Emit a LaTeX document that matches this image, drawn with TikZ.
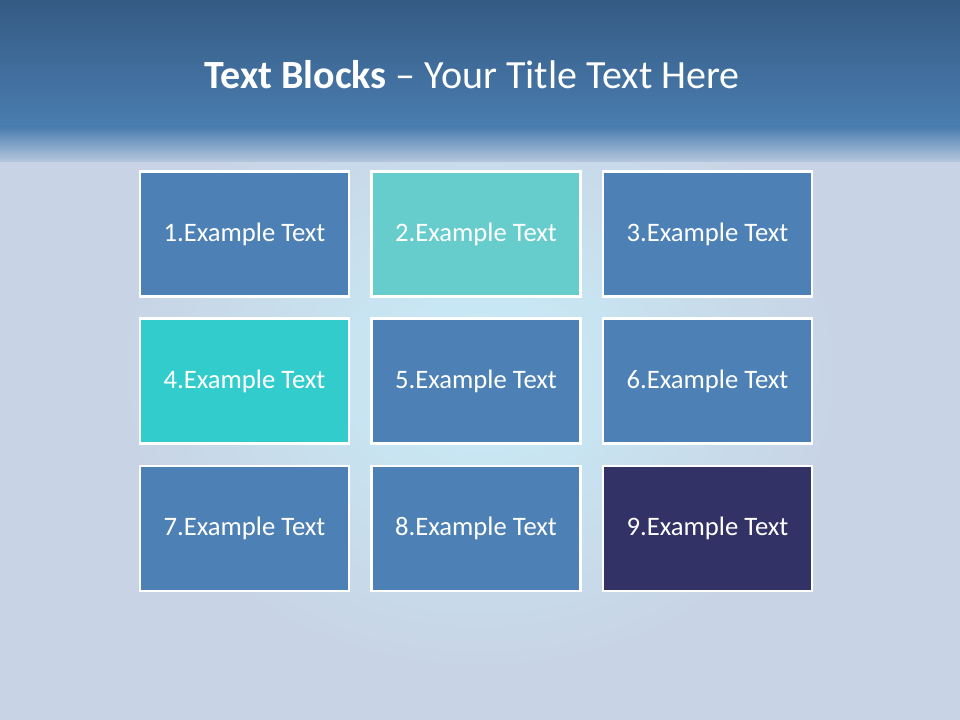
\documentclass[tikz,border=0pt]{standalone}
\usepackage{fontspec}
\setmainfont{Carlito}
\usetikzlibrary{positioning}

\definecolor{bandtop}{RGB}{52,90,131}
\definecolor{bandbot}{RGB}{74,125,176}
\definecolor{paleback}{RGB}{200,212,229}
\definecolor{glow}{RGB}{200,236,248}
\definecolor{blockblue}{RGB}{77,128,180}
\definecolor{blockaqua}{RGB}{102,204,204}
\definecolor{blockteal}{RGB}{51,204,204}
\definecolor{blocknavy}{RGB}{51,50,102}

\begin{document}
\begin{tikzpicture}[
    x=0.75pt, y=-0.75pt,
    block/.style={draw=white, line width=1.8pt, minimum width=157pt,
        minimum height=93.5pt, inner sep=0pt, text=white,
        font=\fontsize{20}{24}\selectfont}
]

% Slide background
\useasboundingbox (0,0) rectangle (960,720);
\fill[paleback] (0,0) rectangle (960,720);
\shade[inner color=glow, outer color=paleback] (480,370) ellipse (360 and 300);

% Title band
\shade[top color=bandtop, bottom color=bandbot] (0,0) rectangle (960,127);
\shade[top color=bandbot, bottom color=paleback!85!bandbot] (0,127) rectangle (960,162);

% Title
\node[text=white, font=\fontsize{30}{34}\selectfont] (title) at (472,75)
    {\textbf{Text Blocks} -- Your Title Text Here};

% Row 1
\node[block, fill=blockblue] (b1) at (244.5,234) {1.Example Text};
\node[block, fill=blockaqua] (b2) at (476,234) {2.Example Text};
\node[block, fill=blockblue] (b3) at (707.5,234) {3.Example Text};

% Row 2
\node[block, fill=blockteal] (b4) at (244.5,381) {4.Example Text};
\node[block, fill=blockblue] (b5) at (476,381) {5.Example Text};
\node[block, fill=blockblue] (b6) at (707.5,381) {6.Example Text};

% Row 3
\node[block, fill=blockblue] (b7) at (244.5,528.5) {7.Example Text};
\node[block, fill=blockblue] (b8) at (476,528.5) {8.Example Text};
\node[block, fill=blocknavy] (b9) at (707.5,528.5) {9.Example Text};

\end{tikzpicture}
\end{document}
